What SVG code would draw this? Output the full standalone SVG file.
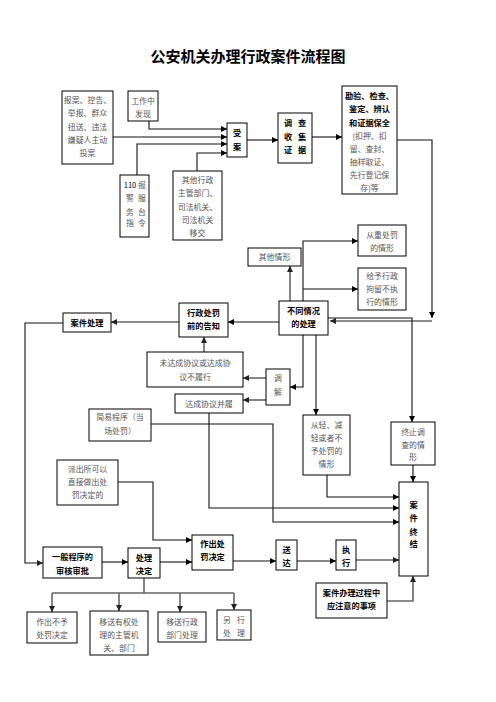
<svg xmlns="http://www.w3.org/2000/svg" width="496" height="702" viewBox="0 0 496 702">
<style>
.bx{fill:#fff;stroke:#000;stroke-width:1}
.t{font-family:"Noto Sans CJK SC","Noto Sans CJK JP",sans-serif;font-size:7.9px;fill:#555;text-anchor:middle}
.b{font-family:"Noto Sans CJK SC","Noto Sans CJK JP",sans-serif;font-size:8.2px;font-weight:bold;fill:#000;text-anchor:middle}
.ln{fill:none;stroke:#111;stroke-width:1.1}
.lg{fill:none;stroke:#666;stroke-width:1.6}
</style>
<defs>
<marker id="a" viewBox="0 0 6 6" refX="6" refY="3" markerWidth="6" markerHeight="6" markerUnits="userSpaceOnUse" orient="auto"><path d="M0,0L6,3L0,6z" fill="#000"/></marker>
<marker id="g" viewBox="0 0 6 6" refX="6" refY="3" markerWidth="6" markerHeight="6" markerUnits="userSpaceOnUse" orient="auto"><path d="M0,0L6,3L0,6z" fill="#222"/></marker>
</defs>
<rect width="496" height="702" fill="#fff"/>
<text x="248" y="62" style="font-family:'Noto Sans CJK SC',sans-serif;font-size:15px;font-weight:bold;text-anchor:middle" fill="#000">公安机关办理行政案件流程图</text>

<g id="connectors">
<path class="ln" d="M149,121V129H227" marker-end="url(#a)"/>
<path class="ln" d="M113,137H227" marker-end="url(#a)"/>
<path class="ln" d="M137,175V144H227" marker-end="url(#a)"/>
<path class="ln" d="M197,171V153H227" marker-end="url(#a)"/>
<path class="ln" d="M247,140H278" marker-end="url(#a)"/>
<path class="ln" d="M312,137H342" marker-end="url(#a)"/>
<path class="ln" d="M397,140H432V318" marker-end="url(#a)"/>
<path class="lg" d="M432,321H330" marker-end="url(#g)"/>
<path class="ln" d="M328,318H412V422" marker-end="url(#a)"/>
<path class="ln" d="M303,301V241H358" marker-end="url(#a)"/>
<path class="ln" d="M303,289H358" marker-end="url(#a)"/>
<path class="lg" d="M290,301V266" marker-end="url(#g)"/>
<path class="ln" d="M279,322H228" marker-end="url(#a)"/>
<path class="lg" d="M179,322H111" marker-end="url(#g)"/>
<path class="ln" d="M63,323H25V563H43" marker-end="url(#g)"/>
<path class="lg" d="M204,352V337" marker-end="url(#g)"/>
<path class="ln" d="M303,335V387H290" marker-end="url(#a)"/>
<path class="ln" d="M316,335V415" marker-end="url(#a)"/>
<path class="lg" d="M266,378H243" marker-end="url(#g)"/>
<path class="lg" d="M266,400H243" marker-end="url(#g)"/>
<path class="ln" d="M209,413V508H399" marker-end="url(#a)"/>
<path class="ln" d="M151,424H273V522H399" marker-end="url(#a)"/>
<path class="ln" d="M327,475V497H399" marker-end="url(#a)"/>
<path class="ln" d="M413,465V482" marker-end="url(#a)"/>
<path class="ln" d="M118,482H153V540H192" marker-end="url(#a)"/>
<path class="ln" d="M102,562H128" marker-end="url(#a)"/>
<path class="ln" d="M160,562H192" marker-end="url(#a)"/>
<path class="ln" d="M233,561H276" marker-end="url(#a)"/>
<path class="ln" d="M297,561H336" marker-end="url(#a)"/>
<path class="lg" d="M356,560H399" marker-end="url(#g)"/>
<path class="lg" d="M387,601H413V576" marker-end="url(#g)"/>
<path class="lg" d="M144,578V593M52,593H234"/>
<path class="lg" d="M52,593V612" marker-end="url(#g)"/>
<path class="lg" d="M119,593V611" marker-end="url(#g)"/>
<path class="lg" d="M180,593V612" marker-end="url(#g)"/>
<path class="lg" d="M234,593V610" marker-end="url(#g)"/>
</g>

<g id="n_baoan"><rect class="bx" x="62" y="91" width="51" height="73"/>
<text class="t" x="87.5" y="103">报案、控告、</text><text class="t" x="87.5" y="116">举报、群众</text><text class="t" x="87.5" y="130">扭送、违法</text><text class="t" x="87.5" y="143">嫌疑人主动</text><text class="t" x="87.5" y="156">投案</text></g>

<g id="n_gongzuo"><rect class="bx" x="128" y="91" width="30" height="30"/>
<text class="t" x="143" y="104">工作中</text><text class="t" x="143" y="117">发现</text></g>

<g id="n_shouan"><rect class="bx" x="227" y="123" width="20" height="34"/>
<text class="b" x="237" y="136">受</text><text class="b" x="237" y="150">案</text></g>

<g id="n_110"><rect class="bx" x="120" y="175" width="29" height="62"/>
<text class="t" x="130" y="188" style="font-size:7.5px;fill:#000">110</text><text class="t" x="142" y="188">报</text>
<text class="t" x="130" y="201">警</text><text class="t" x="142" y="201">服</text>
<text class="t" x="130" y="215">务</text><text class="t" x="142" y="215">台</text>
<text class="t" x="130" y="226">指</text><text class="t" x="142" y="226">令</text></g>

<g id="n_qita"><rect class="bx" x="173" y="171" width="49" height="69"/>
<text class="t" x="197.5" y="183">其他行政</text><text class="t" x="197.5" y="196">主管部门、</text><text class="t" x="197.5" y="210">司法机关、</text><text class="t" x="197.5" y="223">司法机关</text><text class="t" x="197.5" y="236">移交</text></g>

<g id="n_diaocha"><rect class="bx" x="278" y="113" width="34" height="50"/>
<text class="b" x="288" y="126">调</text><text class="b" x="302" y="126">查</text>
<text class="b" x="288" y="140">收</text><text class="b" x="302" y="140">集</text>
<text class="b" x="288" y="153">证</text><text class="b" x="302" y="153">据</text></g>

<g id="n_kanyan"><rect class="bx" x="342" y="86" width="55" height="108"/>
<text class="b" x="369.5" y="99">勘验、检查、</text><text class="b" x="369.5" y="112">鉴定、辨认</text><text class="b" x="369.5" y="126">和证据保全</text>
<text class="t" x="369.5" y="139">(扣押、扣</text><text class="t" x="369.5" y="152">留、查封、</text><text class="t" x="369.5" y="165">抽样取证、</text><text class="t" x="369.5" y="178">先行登记保</text><text class="t" x="369.5" y="191">存)等</text></g>

<g id="n_congzhong"><rect class="bx" x="358" y="225" width="48" height="31"/>
<text class="t" x="382" y="238">从重处罚</text><text class="t" x="382" y="251">的情形</text></g>

<g id="n_juliu"><rect class="bx" x="358" y="268" width="48" height="42"/>
<text class="t" x="382" y="279">给予行政</text><text class="t" x="382" y="292">拘留不执</text><text class="t" x="382" y="305">行的情形</text></g>

<g id="n_qitaqx"><rect class="bx" x="248" y="248" width="53" height="18"/>
<text class="t" x="274.5" y="260">其他情形</text></g>

<g id="n_butong"><rect class="bx" x="279" y="301" width="49" height="34"/>
<text class="b" x="303.5" y="314">不同情况</text><text class="b" x="303.5" y="327">的处理</text></g>

<g id="n_gaozhi"><rect class="bx" x="179" y="303" width="49" height="34"/>
<text class="b" x="203.5" y="316">行政处罚</text><text class="b" x="203.5" y="329">前的告知</text></g>

<g id="n_anjianchuli"><rect class="bx" x="63" y="313" width="48" height="19"/>
<text class="b" x="87" y="326">案件处理</text></g>

<g id="n_weidacheng"><rect class="bx" x="147" y="352" width="96" height="35"/>
<text class="t" x="195" y="366">未达成协议或达成协</text><text class="t" x="195" y="380">议不履行</text></g>

<g id="n_dacheng"><rect class="bx" x="175" y="394" width="68" height="19"/>
<text class="t" x="209" y="407">达成协议并履</text></g>

<g id="n_tiaojie"><rect class="bx" x="266" y="369" width="24" height="36"/>
<text class="t" x="278" y="381">调</text><text class="t" x="278" y="395">解</text></g>

<g id="n_jianyi"><rect class="bx" x="89" y="409" width="62" height="32"/>
<text class="t" x="120" y="420">简易程序（当</text><text class="t" x="120" y="434">场处罚）</text></g>

<g id="n_paichusuo"><rect class="bx" x="57" y="460" width="61" height="45"/>
<text class="t" x="87.5" y="472">派出所可以</text><text class="t" x="87.5" y="485">直接做出处</text><text class="t" x="87.5" y="498">罚决定的</text></g>

<g id="n_congqing"><rect class="bx" x="303" y="415" width="47" height="60"/>
<text class="t" x="326.5" y="428">从轻、减</text><text class="t" x="326.5" y="441">轻或者不</text><text class="t" x="326.5" y="454">予处罚的</text><text class="t" x="326.5" y="467">情形</text></g>

<g id="n_zhongzhi"><rect class="bx" x="391" y="422" width="44" height="43"/>
<text class="t" x="413" y="435">终止调</text><text class="t" x="413" y="448">查的情</text><text class="t" x="413" y="460">形</text></g>

<g id="n_zhongjie"><rect class="bx" x="399" y="482" width="29" height="94"/>
<text class="b" x="413.5" y="508">案</text><text class="b" x="413.5" y="521">件</text><text class="b" x="413.5" y="535">终</text><text class="b" x="413.5" y="547">结</text></g>

<g id="n_yiban"><rect class="bx" x="43" y="547" width="59" height="31"/>
<text class="b" x="72.5" y="560">一般程序的</text><text class="b" x="72.5" y="574">审核审批</text></g>

<g id="n_chulijueding"><rect class="bx" x="128" y="548" width="32" height="30"/>
<text class="b" x="144" y="561">处理</text><text class="b" x="144" y="574">决定</text></g>

<g id="n_zuochu"><rect class="bx" x="192" y="535" width="41" height="35"/>
<text class="b" x="212.5" y="547">作出处</text><text class="b" x="212.5" y="560">罚决定</text></g>

<g id="n_songda"><rect class="bx" x="276" y="540" width="21" height="30"/>
<text class="b" x="286.5" y="553">送</text><text class="b" x="286.5" y="566">达</text></g>

<g id="n_zhixing"><rect class="bx" x="336" y="540" width="20" height="30"/>
<text class="b" x="346" y="553">执</text><text class="b" x="346" y="566">行</text></g>

<g id="n_zhuyi"><rect class="bx" x="316" y="583" width="71" height="35"/>
<text class="b" x="351.5" y="596">案件办理过程中</text><text class="b" x="351.5" y="609">应注意的事项</text></g>

<g id="n_buyu"><rect class="bx" x="27" y="612" width="50" height="31"/>
<text class="t" x="52" y="625">作出不予</text><text class="t" x="52" y="638">处罚决定</text></g>

<g id="n_yisong1"><rect class="bx" x="90" y="611" width="58" height="44"/>
<text class="t" x="119" y="625">移送有权处</text><text class="t" x="119" y="638">理的主管机</text><text class="t" x="119" y="651">关、部门</text></g>

<g id="n_yisong2"><rect class="bx" x="158" y="612" width="48" height="30"/>
<text class="t" x="182" y="625">移送行政</text><text class="t" x="182" y="638">部门处理</text></g>

<g id="n_lingxing"><rect class="bx" x="217" y="610" width="34" height="30"/>
<text class="t" x="227" y="623">另</text><text class="t" x="241" y="623">行</text><text class="t" x="227" y="636">处</text><text class="t" x="241" y="636">理</text></g>
</svg>
